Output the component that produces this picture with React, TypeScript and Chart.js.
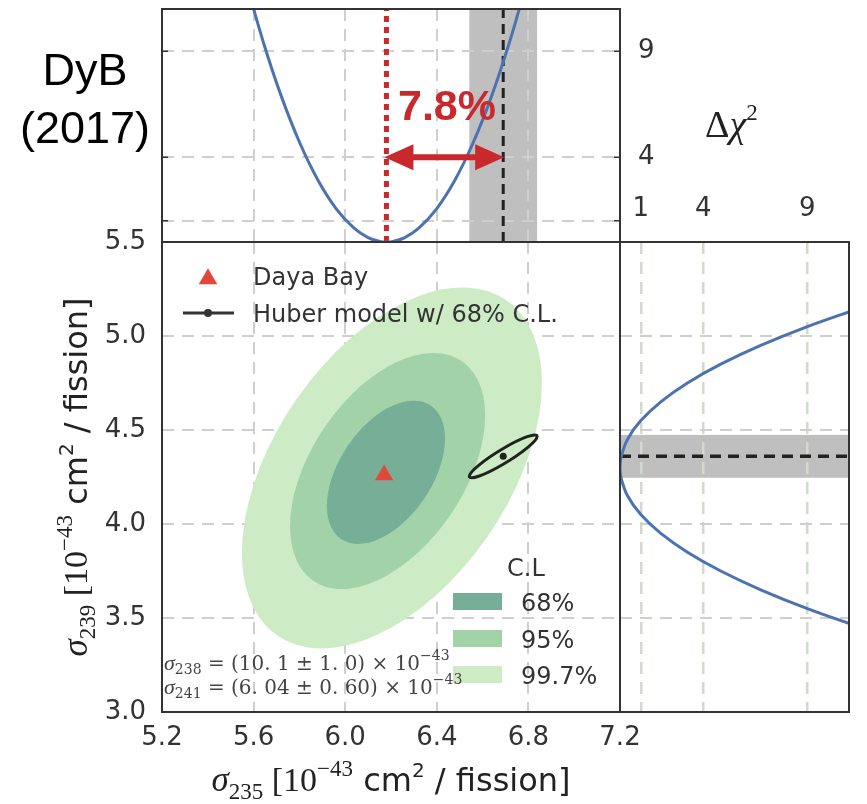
import { useEffect, useRef } from 'react';
import { Chart, registerables } from 'chart.js';

Chart.register(...registerables);

const W = 867;
const H = 804;

// ---------------- data ----------------
const dayaBayX = [6.17];
const dayaBayY = [4.26];

const huberX = [6.69];
const huberY = [4.36];
const huberErrX = [0.148];
const huberErrY = [0.114];
const huberRho = [0.93];

const contourLevels = ['68%', '95%', '99.7%'];
const contourColors = ['#76ae97', '#a2d3a8', '#cdecc6'];
const contourCx = [6.178, 6.185, 6.204];
const contourCy = [4.275, 4.282, 4.298];
const contourHx = [0.258, 0.426, 0.655];
const contourHy = [0.381, 0.628, 0.96];
const contourRho = [0.47, 0.47, 0.47];

const bestFit235 = 6.18;
const top235 = [5.58, 5.65, 5.72, 5.8, 5.88, 5.96, 6.04, 6.1, 6.15, 6.18, 6.21, 6.26, 6.32, 6.4, 6.48, 6.56, 6.64, 6.72, 6.78];
const topChi2 = [11.76, 9.17, 6.91, 4.72, 2.94, 1.58, 0.64, 0.21, 0.03, 0, 0.03, 0.21, 0.64, 1.58, 2.94, 4.72, 6.91, 9.52, 11.76];

const right239 = [3.45, 3.55, 3.65, 3.75, 3.85, 3.95, 4.05, 4.15, 4.25, 4.3, 4.35, 4.45, 4.55, 4.65, 4.75, 4.85, 4.95, 5.05, 5.15];
const rightChi2 = [11.56, 9.0, 6.76, 4.84, 3.24, 1.96, 1.0, 0.36, 0.04, 0, 0.04, 0.36, 1.0, 1.96, 3.24, 4.84, 6.76, 9.0, 11.56];

const chi2Ticks = [1, 4, 9];
const arrowLevel = 4;
const arrowLabel = '7.8%';

// ---------------- styles ----------------
const SANS = '"DejaVu Sans", sans-serif';
const SERIF = '"Liberation Serif", "DejaVu Serif", serif';
const DSERIF = '"DejaVu Serif", serif';
const HELV = '"Liberation Sans", Arial, sans-serif';
const BLUE = '#4c72b0';
const RED = '#c9282d';
const TICK_FONT = { family: 'DejaVu Sans', size: 26 };
const TICK_COLOR = '#333333';
const GRID_COLOR = '#cfcfcf';
const GRID_GREEN = '#d2d9cd';
const BAND = '#bfbfbf';
const FRAME = '#333333';

type Seg = { t: string; f: string; dy?: number };

function drawRich(ctx: CanvasRenderingContext2D, segs: Seg[], x: number, y: number, align: 'left' | 'center') {
  let w = 0;
  for (const s of segs) {
    ctx.font = s.f;
    w += ctx.measureText(s.t).width;
  }
  let cx = align === 'center' ? x - w / 2 : x;
  ctx.textAlign = 'left';
  ctx.textBaseline = 'alphabetic';
  for (const s of segs) {
    ctx.font = s.f;
    ctx.fillText(s.t, cx, y + (s.dy || 0));
    cx += ctx.measureText(s.t).width;
  }
}

function ellipsePath(ctx: CanvasRenderingContext2D, x: any, y: any, cx: number, cy: number, hx: number, hy: number, rho: number) {
  const sx = Math.abs(x.getPixelForValue(cx + hx) - x.getPixelForValue(cx));
  const sy = Math.abs(y.getPixelForValue(cy + hy) - y.getPixelForValue(cy));
  const s = Math.sqrt(1 - rho * rho);
  ctx.save();
  ctx.translate(x.getPixelForValue(cx), y.getPixelForValue(cy));
  ctx.transform(sx, -sy * rho, 0, -sy * s, 0, 0);
  ctx.beginPath();
  ctx.arc(0, 0, 1, 0, Math.PI * 2);
  ctx.restore();
}

function frame(chart: any) {
  const { ctx, chartArea: a } = chart;
  ctx.save();
  ctx.strokeStyle = FRAME;
  ctx.lineWidth = 2;
  ctx.strokeRect(a.left, a.top, a.right - a.left, a.bottom - a.top);
  ctx.restore();
}

function triangle(ctx: CanvasRenderingContext2D, x: number, y: number, r: number, color: string) {
  ctx.beginPath();
  ctx.moveTo(x, y - r);
  ctx.lineTo(x + 0.866 * r, y + 0.5 * r);
  ctx.lineTo(x - 0.866 * r, y + 0.5 * r);
  ctx.closePath();
  ctx.fillStyle = color;
  ctx.fill();
}

const fixFit = (w: number | null, h: number | null) => (s: any) => {
  if (w !== null) s.width = w;
  if (h !== null) s.height = h;
  s.paddingLeft = 0;
  s.paddingRight = 0;
  s.paddingTop = 0;
  s.paddingBottom = 0;
};

function titleSegs(sub: string): Seg[] {
  return [
    { t: 'σ', f: `italic 35px ${SERIF}` },
    { t: sub, f: `23px ${SERIF}`, dy: 8 },
    { t: ' [10', f: `34px ${SERIF}` },
    { t: '−43', f: `23px ${SERIF}`, dy: -15 },
    { t: ' cm', f: `32px ${SANS}` },
    { t: '2', f: `20px ${SANS}`, dy: -14 },
    { t: ' / fission]', f: `32px ${SANS}` },
  ];
}

// ---------------- plugins ----------------
const mainPlugin = {
  id: 'mainDecor',
  beforeDatasetsDraw(chart: any) {
    const { ctx, chartArea: a, scales } = chart;
    const x = scales.x;
    const y = scales.y;
    ctx.save();
    ctx.beginPath();
    ctx.rect(a.left, a.top, a.right - a.left, a.bottom - a.top);
    ctx.clip();
    for (let i = contourLevels.length - 1; i >= 0; i--) {
      ellipsePath(ctx, x, y, contourCx[i], contourCy[i], contourHx[i], contourHy[i], contourRho[i]);
      ctx.fillStyle = contourColors[i];
      ctx.fill();
    }
    ellipsePath(ctx, x, y, huberX[0], huberY[0], huberErrX[0], huberErrY[0], huberRho[0]);
    ctx.strokeStyle = '#222';
    ctx.lineWidth = 3;
    ctx.stroke();
    ctx.restore();
  },
  afterDatasetsDraw(chart: any) {
    const { ctx } = chart;
    frame(chart);
    ctx.save();
    // legend
    triangle(ctx, 208, 279, 10.7, '#e1483b');
    ctx.strokeStyle = '#333';
    ctx.lineWidth = 3;
    ctx.beginPath();
    ctx.moveTo(183, 313);
    ctx.lineTo(234, 313);
    ctx.stroke();
    ctx.beginPath();
    ctx.arc(208, 313, 4, 0, Math.PI * 2);
    ctx.fillStyle = '#333';
    ctx.fill();
    ctx.fillStyle = '#333';
    ctx.font = `24px ${SANS}`;
    ctx.textAlign = 'left';
    ctx.textBaseline = 'alphabetic';
    ctx.fillText('Daya Bay', 253, 285);
    ctx.fillText('Huber model w/ 68% C.L.', 253, 322);

    // C.L legend
    ctx.fillText('C.L', 507, 576);
    const boxY = [593, 630, 666];
    const labY = [611, 648, 684];
    for (let i = 0; i < contourLevels.length; i++) {
      ctx.fillStyle = contourColors[i];
      ctx.fillRect(453, boxY[i], 49, 17);
      ctx.fillStyle = '#333';
      ctx.fillText(contourLevels[i], 521, labY[i]);
    }

    // annotation
    ctx.fillStyle = '#444';
    drawRich(ctx, [
      { t: 'σ', f: `italic 22px ${SERIF}` },
      { t: '238', f: `14px ${DSERIF}`, dy: 4 },
      { t: ' = (10. 1 ± 1. 0) × 10', f: `20px ${DSERIF}` },
      { t: '−43', f: `14px ${DSERIF}`, dy: -10 },
    ], 164, 670, 'left');
    drawRich(ctx, [
      { t: 'σ', f: `italic 22px ${SERIF}` },
      { t: '241', f: `14px ${DSERIF}`, dy: 4 },
      { t: ' = (6. 04 ± 0. 60) × 10', f: `20px ${DSERIF}` },
      { t: '−43', f: `14px ${DSERIF}`, dy: -10 },
    ], 164, 694, 'left');

    // axis titles
    ctx.fillStyle = '#222';
    drawRich(ctx, titleSegs('235'), 391, 791, 'center');
    ctx.save();
    ctx.translate(87, 477);
    ctx.rotate(-Math.PI / 2);
    drawRich(ctx, titleSegs('239'), 0, 0, 'center');
    ctx.restore();

    // DyB label
    ctx.fillStyle = '#000';
    ctx.font = `45px ${HELV}`;
    ctx.textAlign = 'center';
    ctx.fillText('DyB', 85, 85);
    ctx.fillText('(2017)', 85, 143);
    ctx.restore();
  },
};

const topPlugin = {
  id: 'topDecor',
  beforeDraw(chart: any) {
    const { ctx, chartArea: a, scales } = chart;
    const x = scales.x;
    const x1 = x.getPixelForValue(huberX[0] - huberErrX[0]);
    const x2 = x.getPixelForValue(huberX[0] + huberErrX[0]);
    ctx.save();
    ctx.fillStyle = BAND;
    ctx.fillRect(x1, a.top, x2 - x1, a.bottom - a.top);
    ctx.restore();
  },
  afterDatasetsDraw(chart: any) {
    const { ctx, chartArea: a, scales } = chart;
    const x = scales.x;
    const y = scales.y;
    const yy = y.getPixelForValue(arrowLevel);
    const xa = x.getPixelForValue(bestFit235) - 2;
    const xb = x.getPixelForValue(huberX[0]) + 1;
    const hl = 29;
    const hw = 13;
    ctx.save();
    ctx.strokeStyle = RED;
    ctx.fillStyle = RED;
    ctx.lineWidth = 6;
    ctx.beginPath();
    ctx.moveTo(xa + hl - 2, yy);
    ctx.lineTo(xb - hl + 2, yy);
    ctx.stroke();
    ctx.beginPath();
    ctx.moveTo(xa, yy);
    ctx.lineTo(xa + hl, yy - hw);
    ctx.lineTo(xa + hl, yy + hw);
    ctx.closePath();
    ctx.fill();
    ctx.beginPath();
    ctx.moveTo(xb, yy);
    ctx.lineTo(xb - hl, yy - hw);
    ctx.lineTo(xb - hl, yy + hw);
    ctx.closePath();
    ctx.fill();
    ctx.font = `bold 43px ${HELV}`;
    ctx.textAlign = 'left';
    ctx.textBaseline = 'alphabetic';
    ctx.fillText(arrowLabel, 398, 120);

    // inward ticks
    ctx.strokeStyle = FRAME;
    ctx.lineWidth = 1.5;
    for (const v of chi2Ticks) {
      const p = y.getPixelForValue(v);
      ctx.beginPath();
      ctx.moveTo(a.left, p);
      ctx.lineTo(a.left + 6, p);
      ctx.moveTo(a.right, p);
      ctx.lineTo(a.right - 6, p);
      ctx.stroke();
    }
    ctx.restore();
    frame(chart);

    ctx.save();
    ctx.fillStyle = '#222';
    drawRich(ctx, [
      { t: 'Δ', f: `38px ${SERIF}` },
      { t: 'χ', f: `italic 38px ${SERIF}` },
      { t: '2', f: `23px ${SERIF}`, dy: -17 },
    ], 705, 137, 'left');
    ctx.restore();
  },
};

const rightPlugin = {
  id: 'rightDecor',
  beforeDraw(chart: any) {
    const { ctx, chartArea: a, scales } = chart;
    const y = scales.y;
    const y1 = y.getPixelForValue(huberY[0] + huberErrY[0]);
    const y2 = y.getPixelForValue(huberY[0] - huberErrY[0]);
    ctx.save();
    ctx.fillStyle = BAND;
    ctx.fillRect(a.left, y1, a.right - a.left, y2 - y1);
    ctx.restore();
  },
  afterDatasetsDraw(chart: any) {
    frame(chart);
  },
};

// ---------------- configs ----------------
const baseOpts = {
  responsive: false,
  animation: false as const,
  devicePixelRatio: 1,
  events: [] as any[],
  plugins: { legend: { display: false }, tooltip: { enabled: false } },
};

function mainConfig(): any {
  return {
    type: 'scatter',
    data: {
      datasets: [
        {
          label: 'Daya Bay',
          data: dayaBayX.map((v, i) => ({ x: v, y: dayaBayY[i] })),
          pointStyle: 'triangle',
          pointRadius: 10.5,
          backgroundColor: '#e1483b',
          borderColor: '#e1483b',
          borderWidth: 0,
        },
        {
          label: 'Huber model w/ 68% C.L.',
          data: huberX.map((v, i) => ({ x: v, y: huberY[i] })),
          pointStyle: 'circle',
          pointRadius: 3.5,
          backgroundColor: '#222',
          borderColor: '#222',
          borderWidth: 0,
        },
      ],
    },
    options: {
      ...baseOpts,
      layout: { autoPadding: false, padding: { left: 62, right: 247, top: 242, bottom: 32 } },
      scales: {
        x: {
          type: 'linear',
          min: 5.2,
          max: 7.2,
          ticks: { stepSize: 0.4, autoSkip: false, maxRotation: 0, padding: 11, font: TICK_FONT, color: TICK_COLOR, callback: (v: any) => Number(v).toFixed(1) },
          grid: { color: GRID_COLOR, lineWidth: 2, drawTicks: false },
          border: { display: false, dash: [12, 8] },
          afterFit: fixFit(null, 60),
        },
        y: {
          type: 'linear',
          min: 3.0,
          max: 5.5,
          ticks: { stepSize: 0.5, autoSkip: false, padding: 16, font: TICK_FONT, color: TICK_COLOR, callback: (v: any) => Number(v).toFixed(1) },
          grid: { color: GRID_COLOR, lineWidth: 2, drawTicks: false },
          border: { display: false, dash: [12, 8] },
          afterFit: fixFit(100, null),
        },
      },
    },
    plugins: [mainPlugin],
  };
}

function topConfig(): any {
  return {
    type: 'scatter',
    data: {
      datasets: [
        {
          label: 'profile σ235',
          data: top235.map((v, i) => ({ x: v, y: topChi2[i] })),
          showLine: true,
          borderColor: BLUE,
          borderWidth: 3,
          pointRadius: 0,
          tension: 0.4,
          fill: false,
          clip: 0,
        },
        {
          label: 'best fit',
          data: [{ x: bestFit235, y: 0 }, { x: bestFit235, y: 11 }],
          showLine: true,
          borderColor: RED,
          borderWidth: 5,
          borderDash: [6, 5],
          pointRadius: 0,
          clip: 0,
        },
        {
          label: 'Huber',
          data: [{ x: huberX[0], y: 0 }, { x: huberX[0], y: 11 }],
          showLine: true,
          borderColor: '#222',
          borderWidth: 3,
          borderDash: [10, 6],
          pointRadius: 0,
          clip: 0,
        },
      ],
    },
    options: {
      ...baseOpts,
      layout: { autoPadding: false, padding: { left: 162, right: 167, top: 9, bottom: 562 } },
      scales: {
        x: {
          type: 'linear',
          min: 5.2,
          max: 7.2,
          ticks: { stepSize: 0.4, display: false },
          grid: { color: GRID_COLOR, lineWidth: 2, drawTicks: false },
          border: { display: false, dash: [12, 8] },
          afterFit: fixFit(null, 0),
        },
        y: {
          type: 'linear',
          position: 'right',
          min: 0,
          max: 11,
          afterBuildTicks: (s: any) => {
            s.ticks = chi2Ticks.map((v) => ({ value: v }));
          },
          ticks: { autoSkip: false, padding: 18, font: TICK_FONT, color: TICK_COLOR, callback: (v: any) => (v === 1 ? '' : String(v)) },
          grid: { color: GRID_COLOR, lineWidth: 2, drawTicks: false },
          border: { display: false, dash: [12, 8] },
          afterFit: fixFit(80, null),
        },
      },
    },
    plugins: [topPlugin],
  };
}

function rightConfig(): any {
  return {
    type: 'scatter',
    data: {
      datasets: [
        {
          label: 'profile σ239',
          data: right239.map((v, i) => ({ x: rightChi2[i], y: v })),
          showLine: true,
          borderColor: BLUE,
          borderWidth: 3,
          pointRadius: 0,
          tension: 0.4,
          fill: false,
          clip: 0,
        },
        {
          label: 'Huber',
          data: [{ x: 0, y: huberY[0] }, { x: 11, y: huberY[0] }],
          showLine: true,
          borderColor: '#222',
          borderWidth: 3.5,
          borderDash: [11, 7],
          pointRadius: 0,
          clip: 0,
        },
      ],
    },
    options: {
      ...baseOpts,
      layout: { autoPadding: false, padding: { left: 620, right: 18, top: 182, bottom: 92 } },
      scales: {
        x: {
          type: 'linear',
          position: 'top',
          min: 0,
          max: 11,
          afterBuildTicks: (s: any) => {
            s.ticks = chi2Ticks.map((v) => ({ value: v }));
          },
          ticks: { autoSkip: false, maxRotation: 0, padding: 17, font: TICK_FONT, color: TICK_COLOR, callback: (v: any) => String(v) },
          grid: { color: GRID_GREEN, lineWidth: 2.5, drawTicks: false },
          border: { display: false, dash: [12, 8] },
          afterFit: fixFit(null, 60),
        },
        y: {
          type: 'linear',
          min: 3.0,
          max: 5.5,
          ticks: { stepSize: 0.5, display: false },
          grid: { color: GRID_COLOR, lineWidth: 2, drawTicks: false },
          border: { display: false, dash: [12, 8] },
          afterFit: fixFit(0, null),
        },
      },
    },
    plugins: [rightPlugin],
  };
}

export default function App() {
  const r1 = useRef<HTMLCanvasElement>(null);
  const r2 = useRef<HTMLCanvasElement>(null);
  const r3 = useRef<HTMLCanvasElement>(null);

  useEffect(() => {
    const c1 = new Chart(r1.current as HTMLCanvasElement, mainConfig());
    const c2 = new Chart(r2.current as HTMLCanvasElement, topConfig());
    const c3 = new Chart(r3.current as HTMLCanvasElement, rightConfig());
    return () => {
      c1.destroy();
      c2.destroy();
      c3.destroy();
    };
  }, []);

  const cs: any = { position: 'absolute', left: 0, top: 0, width: W, height: H };
  return (
    <div style={{ position: 'absolute', left: 0, top: 0, width: W, height: H, background: '#fff', overflow: 'hidden' }}>
      <canvas ref={r1} width={W} height={H} style={cs} />
      <canvas ref={r2} width={W} height={H} style={cs} />
      <canvas ref={r3} width={W} height={H} style={cs} />
    </div>
  );
}
